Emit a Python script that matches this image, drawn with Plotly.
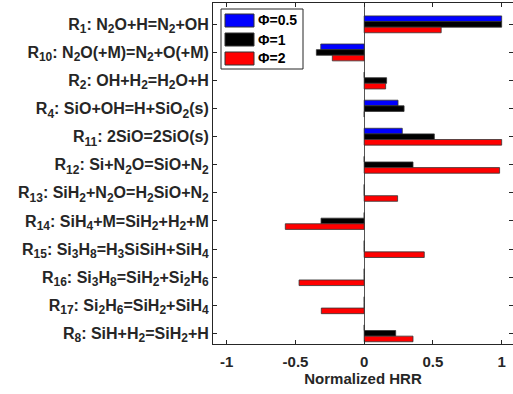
import re
import plotly.graph_objects as go

# Reactions ranked by their contribution to the heat release rate (TeX-like subscripts)
reactions = [
    "R_{1}: N_{2}O+H=N_{2}+OH",
    "R_{10}: N_{2}O(+M)=N_{2}+O(+M)",
    "R_{2}: OH+H_{2}=H_{2}O+H",
    "R_{4}: SiO+OH=H+SiO_{2}(s)",
    "R_{11}: 2SiO=2SiO(s)",
    "R_{12}: Si+N_{2}O=SiO+N_{2}",
    "R_{13}: SiH_{2}+N_{2}O=H_{2}SiO+N_{2}",
    "R_{14}: SiH_{4}+M=SiH_{2}+H_{2}+M",
    "R_{15}: Si_{3}H_{8}=H_{3}SiSiH+SiH_{4}",
    "R_{16}: Si_{3}H_{8}=SiH_{2}+Si_{2}H_{6}",
    "R_{17}: Si_{2}H_{6}=SiH_{2}+SiH_{4}",
    "R_{8}: SiH+H_{2}=SiH_{2}+H",
]

# Normalized heat release rate per equivalence ratio
hrr_phi05 = [1.0, -0.316, 0.0, 0.246, 0.277, 0.0, 0.0, 0.0, 0.0, 0.0, 0.0, 0.0]
hrr_phi1 = [1.0, -0.348, 0.163, 0.29, 0.51, 0.355, 0.0, -0.314, 0.0, 0.0, 0.0, 0.229]
hrr_phi2 = [0.56, -0.232, 0.156, 0.0, 1.0, 0.985, 0.243, -0.574, 0.437, -0.474, -0.312, 0.355]

series_names = ["Φ=0.5", "Φ=1", "Φ=2"]
series_colors = ["#0000ff", "#000000", "#ff0000"]
series_values = [hrr_phi05, hrr_phi1, hrr_phi2]

x_ticks = [-1, -0.5, 0, 0.5, 1]
x_ticktext = ["-1", "-0.5", "0", "0.5", "1"]

positions = list(range(len(reactions)))

FONT = "Liberation Sans, Arial, Helvetica, sans-serif"
AXIS_COLOR = "#262626"
LABEL_SIZE = 16
SUB_SIZE = 12


def tex_to_html(s):
    return re.sub(r"_\{([^}]*)\}",
                  lambda m: f'<sub><span style="font-size:{SUB_SIZE}px">{m.group(1)}</span></sub>', s)


reaction_labels = [tex_to_html(r) for r in reactions]

W, H = 513, 394
L, R, T, B = 213, 0, 3, 50

fig = go.Figure()
for name, color, vals in zip(series_names, series_colors, series_values):
    fig.add_trace(go.Bar(
        x=vals, y=positions, orientation="h", name=name,
        marker=dict(color=color, line=dict(color="#333333", width=0.8)),
        showlegend=False,
    ))

y_range = [len(reactions) - 1 + 0.38, -0.76]

fig.update_layout(
    width=W, height=H,
    margin=dict(l=L, r=R, t=T, b=B),
    paper_bgcolor="white", plot_bgcolor="white",
    barmode="group", bargap=0.4, bargroupgap=0.0,
    font=dict(family=FONT, size=13, color="#262626"),
    xaxis=dict(
        range=[-1.1, 1.0825], tickvals=x_ticks, ticktext=x_ticktext,
        ticks="inside", ticklen=4, tickcolor=AXIS_COLOR,
        showline=True, linecolor=AXIS_COLOR, linewidth=1, mirror="ticks",
        showgrid=False, zeroline=True, zerolinecolor="#555555", zerolinewidth=1,
        tickfont=dict(family=FONT, size=15, weight="bold"),
        ticklabelstandoff=4,
        title=dict(text="Normalized HRR", font=dict(family=FONT, size=15, weight="bold"), standoff=4),
    ),
    yaxis=dict(
        range=y_range, tickvals=positions, ticktext=reaction_labels,
        ticks="inside", ticklen=4, tickcolor=AXIS_COLOR,
        showline=True, linecolor=AXIS_COLOR, linewidth=1, mirror="ticks",
        showgrid=False, zeroline=False,
        tickfont=dict(family=FONT, size=LABEL_SIZE, weight="bold"),
    ),
)


def px_x(p):
    return (p - L) / (W - L - R)


def px_y(p):
    return (H - B - p) / (H - B - T)


# Legend box with wide colour swatches
shapes = [dict(type="rect", xref="paper", yref="paper",
               x0=px_x(221), x1=px_x(303), y0=px_y(69), y1=px_y(9),
               line=dict(color=AXIS_COLOR, width=1), fillcolor="white", layer="above")]
annotations = []
for i, (name, color) in enumerate(zip(series_names, series_colors)):
    cy = 20.5 + 19 * i
    shapes.append(dict(type="rect", xref="paper", yref="paper",
                       x0=px_x(225), x1=px_x(254), y0=px_y(cy + 6.5), y1=px_y(cy - 6.5),
                       line=dict(color="#333333", width=1), fillcolor=color, layer="above"))
    annotations.append(dict(xref="paper", yref="paper", x=px_x(256), y=px_y(cy),
                            text=name, showarrow=False, xanchor="left", yanchor="middle",
                            font=dict(family=FONT, size=14, weight="bold", color="#000000")))

fig.update_layout(shapes=shapes, annotations=annotations)

fig.write_html("out.html")
